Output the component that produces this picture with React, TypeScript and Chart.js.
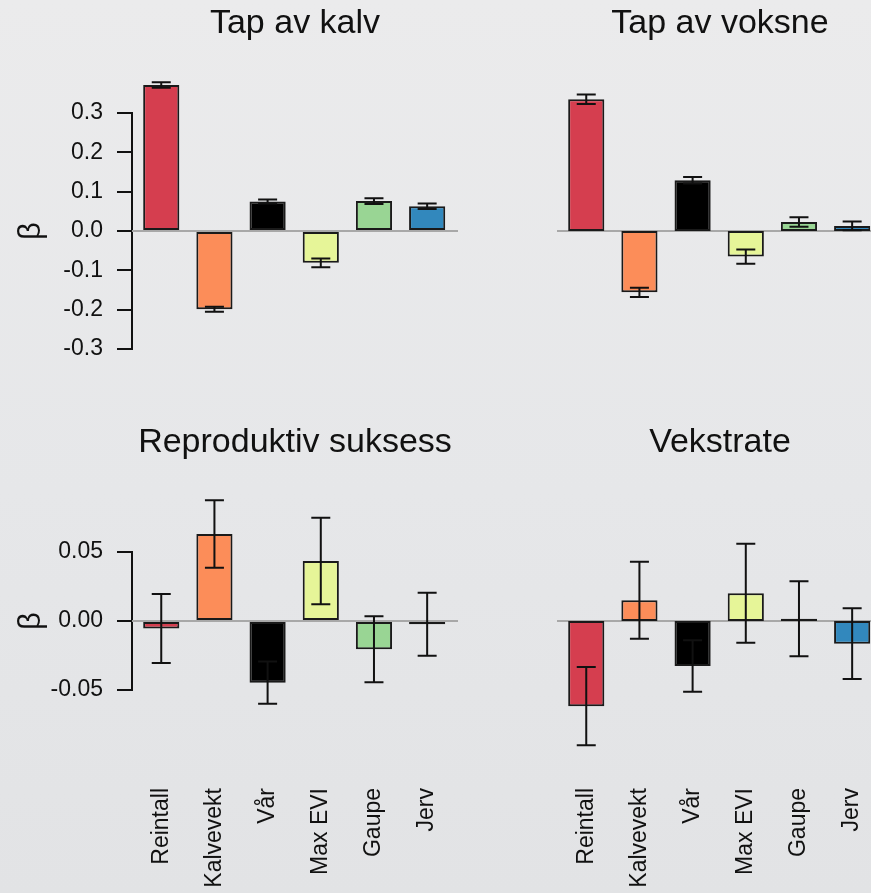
import React, { useEffect, useRef } from "react";
import { Chart, registerables } from "chart.js";

Chart.register(...registerables);
Chart.defaults.font.family = "'Liberation Sans', Arial, sans-serif";

// Predictors (x categories) and bar fill colours
const categories = ["Reintall", "Kalvevekt", "Vår", "Max EVI", "Gaupe", "Jerv"];
const barColors = ["#D53E4F", "#FC8D59", "#000000", "#E6F598", "#99D594", "#3288BD"];

// Standardised coefficients (β) and their error-bar half widths
const tapKalv = [0.371, -0.199, 0.075, -0.081, 0.076, 0.063];
const tapKalvErr = [0.007, 0.0065, 0.005, 0.011, 0.0075, 0.007];

const tapVoksne = [0.335, -0.156, 0.129, -0.065, 0.023, 0.013];
const tapVoksneErr = [0.012, 0.012, 0.008, 0.018, 0.012, 0.011];

const reproduktiv = [-0.0055, 0.063, -0.0447, 0.0435, -0.0205, -0.0023];
const reproduktivErr = [0.025, 0.0245, 0.0153, 0.0314, 0.0239, 0.0228];

const vekstrate = [-0.0617, 0.0151, -0.0326, 0.0201, 0.0016, -0.0164];
const vekstrateErr = [0.0284, 0.0279, 0.0186, 0.0358, 0.0272, 0.0256];

// Y-axis ranges (min, max, step) for upper and lower rows
const upperAxis = [-0.3, 0.3, 0.1];
const lowerAxis = [-0.05, 0.05, 0.05];

type PanelSpec = {
  title: string;
  values: number[];
  errors: number[];
  axis: number[];
  decimals: number;
  showY: boolean;
  showX: boolean;
  left: number;
  top: number;
  w: number;
  h: number;
  padding: { left: number; right: number; top: number; bottom: number };
  yAxisWidth: number;
  xAxisHeight: number;
  titleBaseline: number;
};

const INK = "#111111";
const LINE_W = 2;

function Panel(p: PanelSpec) {
  const ref = useRef<HTMLCanvasElement>(null);

  useEffect(() => {
    const canvas = ref.current;
    if (!canvas) return;

    const decor = {
      id: "panelDecor",
      beforeDatasetsDraw(chart: any) {
        const { ctx, chartArea, scales } = chart;
        const y0 = scales.y.getPixelForValue(0);
        ctx.save();
        ctx.strokeStyle = "#a8a8a8";
        ctx.lineWidth = 2;
        ctx.beginPath();
        ctx.moveTo(chartArea.left, y0);
        ctx.lineTo(chartArea.right, y0);
        ctx.stroke();
        ctx.restore();
      },
      afterDatasetsDraw(chart: any) {
        const { ctx, scales } = chart;
        const cap = 9.5;
        ctx.save();
        ctx.strokeStyle = INK;
        ctx.lineWidth = LINE_W;
        p.values.forEach((v, i) => {
          const e = p.errors[i];
          const px = scales.x.getPixelForValue(i);
          const yHi = scales.y.getPixelForValue(v + e);
          const yLo = scales.y.getPixelForValue(v - e);
          ctx.beginPath();
          ctx.moveTo(px, yHi);
          ctx.lineTo(px, yLo);
          ctx.moveTo(px - cap, yHi);
          ctx.lineTo(px + cap, yHi);
          ctx.moveTo(px - cap, yLo);
          ctx.lineTo(px + cap, yLo);
          ctx.stroke();
        });
        ctx.restore();
      },
      afterDraw(chart: any) {
        const { ctx, chartArea } = chart;
        ctx.save();
        ctx.fillStyle = INK;
        ctx.font = "34px 'Liberation Sans', Arial, sans-serif";
        ctx.textAlign = "center";
        ctx.textBaseline = "alphabetic";
        ctx.fillText(p.title, (chartArea.left + chartArea.right) / 2, p.titleBaseline);
        if (p.showY) {
          ctx.translate(31, (chartArea.top + chartArea.bottom) / 2);
          ctx.rotate(-Math.PI / 2);
          ctx.font = "31px 'Liberation Sans', Arial, sans-serif";
          ctx.textBaseline = "middle";
          ctx.fillText("β", 0, 0);
        }
        ctx.restore();
      },
    };

    const [yMin, yMax, yStep] = p.axis;

    const chart = new Chart(canvas, {
      type: "bar",
      data: {
        datasets: [
          {
            data: p.values.map((v, i) => ({ x: i, y: v })),
            backgroundColor: barColors,
            borderColor: "#1a1a1a",
            borderWidth: LINE_W,
            borderSkipped: false,
            categoryPercentage: 1,
            barPercentage: 0.68,
            clip: false,
          } as any,
        ],
      },
      options: {
        responsive: false,
        animation: false,
        events: [],
        layout: { padding: p.padding },
        plugins: {
          legend: { display: false },
          tooltip: { enabled: false },
          title: { display: false },
        },
        scales: {
          x: {
            type: "linear",
            offset: false,
            min: -0.55,
            max: 5.58,
            display: p.showX,
            afterFit: (s: any) => {
              s.height = p.xAxisHeight;
              s.paddingLeft = 0;
              s.paddingRight = 0;
            },
            grid: { display: false, drawTicks: false },
            border: { display: false },
            ticks: {
              stepSize: 1,
              includeBounds: false,
              autoSkip: false,
              minRotation: 90,
              maxRotation: 90,
              padding: 98,
              color: INK,
              font: { size: 23 },
              callback: (v: any) => categories[v as number] ?? "",
            },
          },
          y: {
            min: yMin,
            max: yMax,
            display: p.showY,
            afterFit: (s: any) => {
              s.width = p.yAxisWidth;
            },
            grid: {
              drawOnChartArea: false,
              drawTicks: true,
              tickLength: 15,
              color: INK,
              lineWidth: LINE_W,
            },
            border: { display: true, color: INK, width: LINE_W },
            ticks: {
              stepSize: yStep,
              padding: 14,
              color: INK,
              font: { size: 23 },
              callback: (v: any) => {
                const n = Number(v);
                return (Math.abs(n) < 1e-9 ? 0 : n).toFixed(p.decimals);
              },
            },
          },
        },
      } as any,
      plugins: [decor],
    });

    return () => chart.destroy();
  }, []);

  return (
    <canvas
      ref={ref}
      width={p.w}
      height={p.h}
      style={{ position: "absolute", left: p.left, top: p.top, width: p.w, height: p.h }}
    />
  );
}

const panels: PanelSpec[] = [
  {
    title: "Tap av kalv",
    values: tapKalv,
    errors: tapKalvErr,
    axis: upperAxis,
    decimals: 1,
    showY: true,
    showX: false,
    left: 0,
    top: 0,
    w: 480,
    h: 400,
    padding: { left: 0, right: 22, top: 113, bottom: 51 },
    yAxisWidth: 132,
    xAxisHeight: 0,
    titleBaseline: 33,
  },
  {
    title: "Tap av voksne",
    values: tapVoksne,
    errors: tapVoksneErr,
    axis: upperAxis,
    decimals: 1,
    showY: false,
    showX: false,
    left: 440,
    top: 0,
    w: 460,
    h: 400,
    padding: { left: 117, right: 17, top: 113, bottom: 51 },
    yAxisWidth: 0,
    xAxisHeight: 0,
    titleBaseline: 33,
  },
  {
    title: "Reproduktiv suksess",
    values: reproduktiv,
    errors: reproduktivErr,
    axis: lowerAxis,
    decimals: 2,
    showY: true,
    showX: true,
    left: 0,
    top: 400,
    w: 480,
    h: 493,
    padding: { left: 0, right: 22, top: 152, bottom: 0 },
    yAxisWidth: 132,
    xAxisHeight: 203,
    titleBaseline: 52,
  },
  {
    title: "Vekstrate",
    values: vekstrate,
    errors: vekstrateErr,
    axis: lowerAxis,
    decimals: 2,
    showY: false,
    showX: true,
    left: 440,
    top: 400,
    w: 460,
    h: 493,
    padding: { left: 117, right: 17, top: 152, bottom: 0 },
    yAxisWidth: 0,
    xAxisHeight: 203,
    titleBaseline: 52,
  },
];

export default function App() {
  return (
    <div
      style={{
        position: "absolute",
        left: 0,
        top: 0,
        width: 871,
        height: 893,
        overflow: "hidden",
        background: "linear-gradient(180deg, #ebebec 0%, #e6e7e9 55%, #e2e3e5 100%)",
      }}
    >
      {panels.map((p) => (
        <Panel key={p.title} {...p} />
      ))}
    </div>
  );
}
